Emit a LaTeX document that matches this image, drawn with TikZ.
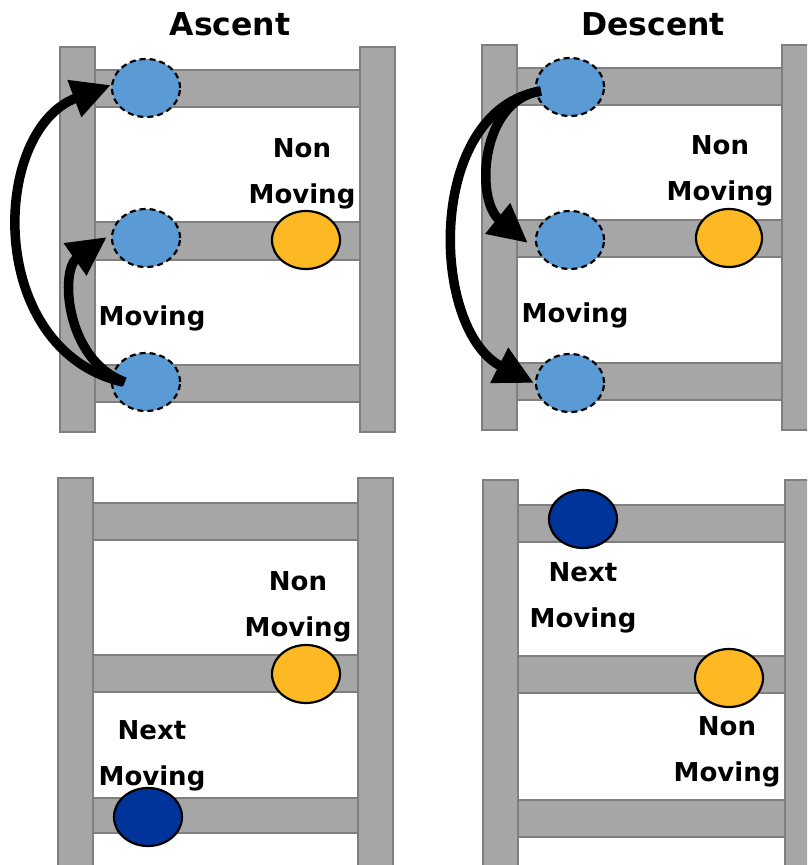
\documentclass[tikz,border=0pt]{standalone}
\usepackage{fontspec}
\setmainfont{DejaVu Sans}
\usetikzlibrary{arrows.meta,shapes.geometric}
\definecolor{railfill}{HTML}{A6A6A6}
\definecolor{railedge}{HTML}{7F7F7F}
\definecolor{ballblue}{HTML}{5B9BD5}
\definecolor{ballgold}{HTML}{FDB924}
\definecolor{ballnavy}{HTML}{00349A}
\begin{document}
\begin{tikzpicture}[x=1pt,y=-1pt,
  rail/.style={fill=railfill,draw=railedge,line width=1.5pt},
  ball/.style={ellipse,minimum width=68pt,minimum height=58pt,inner sep=0pt,line width=2.2pt,draw=black},
  moveball/.style={ball,fill=ballblue,dash pattern=on 6pt off 4pt},
  goldball/.style={ball,fill=ballgold},
  navyball/.style={ball,fill=ballnavy},
  lbl/.style={font=\bfseries\fontsize{26}{45.5}\selectfont,align=center,anchor=base,inner sep=0pt},
  ttl/.style={font=\bfseries\fontsize{31.5}{38}\selectfont,anchor=base,inner sep=0pt},
  bigarrow/.style={line width=9.5pt,-{Triangle[length=39pt,width=37pt]}}]
\useasboundingbox (0,0) rectangle (807,865);
\clip (0,0) rectangle (807,865);
% ---------- top-left ----------
\draw[rail] (95,70) rectangle (360,107);
\draw[rail] (95,222) rectangle (360,260);
\draw[rail] (95,365) rectangle (360,402);
\draw[rail] (60,47) rectangle (95,432);
\draw[rail] (360,47) rectangle (395,432);
% ---------- top-right ----------
\draw[rail] (517,68) rectangle (782,105);
\draw[rail] (517,220) rectangle (782,257);
\draw[rail] (517,363) rectangle (782,400);
\draw[rail] (482,45) rectangle (517,430);
\draw[rail] (782,45) rectangle (817,430);
% ---------- bottom-left ----------
\draw[rail] (93,503) rectangle (358,540);
\draw[rail] (93,655) rectangle (358,692);
\draw[rail] (93,798) rectangle (358,833);
\draw[rail] (58,478) rectangle (93,875);
\draw[rail] (358,478) rectangle (393,875);
% ---------- bottom-right ----------
\draw[rail] (518,505) rectangle (785,542);
\draw[rail] (518,656) rectangle (785,693);
\draw[rail] (518,800) rectangle (785,837);
\draw[rail] (483,480) rectangle (518,875);
\draw[rail] (785,480) rectangle (820,875);
% ---------- titles ----------
\node[ttl] (tAsc) at (230,35) {Ascent};
\node[ttl] (tDes) at (653,35) {Descent};
% ---------- balls ----------
\node[moveball] (a1) at (146,88) {};
\node[moveball] (a2) at (146,238) {};
\node[moveball] (a3) at (146,382) {};
\node[goldball] (ag) at (306,240) {};
\node[moveball] (d1) at (570,87) {};
\node[moveball] (d2) at (570,240) {};
\node[moveball] (d3) at (570,383) {};
\node[goldball,minimum width=66pt] (dg) at (729,238) {};
\node[goldball] (bg) at (306,674) {};
\node[navyball] (bn) at (148,817) {};
\node[navyball] (cn) at (583,519) {};
\node[goldball] (cg) at (729,678) {};
% ---------- labels (anchor = baseline of last line) ----------
\node[lbl] (aNon) at (302,203) {Non\\Moving};
\node[lbl] (aMov) at (152,325) {Moving};
\node[lbl] (dNon) at (720,200) {Non\\Moving};
\node[lbl] (dMov) at (575,322) {Moving};
\node[lbl] (bNon) at (298,636) {Non\\Moving};
\node[lbl] (bNext) at (152,785) {Next\\Moving};
\node[lbl] (cNext) at (583,627) {Next\\Moving};
\node[lbl] (cNon) at (727,781) {Non\\Moving};
% ---------- arrows ----------
\draw[bigarrow] ([xshift=12pt]a3.west) .. controls (-15,350) and (-10,130) .. ([yshift=3pt]a1.west);
\draw[bigarrow] ([xshift=14pt]a3.west) .. controls (65,360) and (60,270) .. ([xshift=-4pt,yshift=1pt]a2.west);
\draw[bigarrow] ([xshift=6pt,yshift=-4pt]d1.west) .. controls (425,110) and (430,330) .. ([xshift=-1pt]d3.west);
\draw[bigarrow] ([xshift=6pt,yshift=-4pt]d1.west) .. controls (480,100) and (475,200) .. ([xshift=-7pt,yshift=-3pt]d2.west);
\end{tikzpicture}
\end{document}
